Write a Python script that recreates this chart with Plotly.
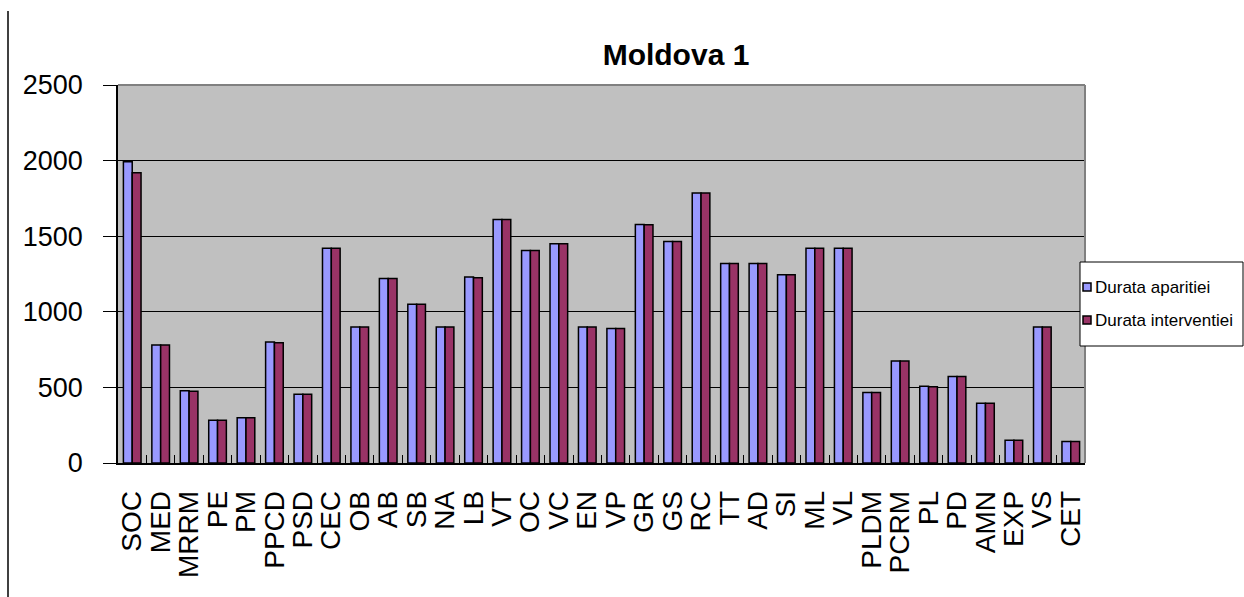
import plotly.graph_objects as go

# Data
categories = ["SOC", "MED", "MRRM", "PE", "PM", "PPCD", "PSD", "CEC", "OB", "AB",
              "SB", "NA", "LB", "VT", "OC", "VC", "EN", "VP", "GR", "GS",
              "RC", "TT", "AD", "SI", "ML", "VL", "PLDM", "PCRM", "PL", "PD",
              "AMN", "EXP", "VS", "CET"]
durata_aparitiei = [1993, 780, 478, 283, 300, 800, 455, 1420, 900, 1220,
                    1050, 900, 1230, 1610, 1405, 1450, 900, 890, 1578, 1465,
                    1785, 1320, 1320, 1245, 1420, 1420, 467, 675, 507, 572,
                    395, 151, 900, 143]
durata_interventiei = [1920, 780, 475, 283, 300, 795, 455, 1420, 900, 1220,
                       1050, 900, 1225, 1610, 1405, 1450, 900, 890, 1575, 1465,
                       1785, 1320, 1320, 1245, 1420, 1420, 467, 675, 505, 572,
                       395, 151, 900, 143]
series_names = ["Durata aparitiei", "Durata interventiei"]
series_colors = ["#9999FF", "#993366"]
y_ticks = [0, 500, 1000, 1500, 2000, 2500]

# Page / plot geometry in pixels
W, H = 1244, 597
L, R, T, B = 118, 159, 85, 134
PW, PH = W - L - R, H - T - B


def px_x(p):
    return (p - L) / PW


def px_y(p):
    return (H - B - p) / PH


FONT = "Liberation Sans, Arial, sans-serif"

fig = go.Figure()
for name, vals, col in zip(series_names, [durata_aparitiei, durata_interventiei], series_colors):
    fig.add_trace(go.Bar(x=categories, y=vals, name=name, marker_color=col,
                         marker_line=dict(color="black", width=1.5), showlegend=False))

fig.update_layout(
    width=W, height=H,
    margin=dict(l=L, r=R, t=T, b=B, autoexpand=False),
    paper_bgcolor="white",
    plot_bgcolor="#C0C0C0",
    barmode="group",
    bargap=0.38,
    bargroupgap=0,
    font=dict(family=FONT, size=27, color="black"),
    title=dict(text="<b>Moldova 1</b>", x=676 / W, xref="container", xanchor="center",
               y=1 - 54 / H, yref="container", yanchor="middle",
               font=dict(family=FONT, size=30, color="black")),
)

fig.update_xaxes(
    type="category",
    tickmode="array",
    tickvals=categories,
    ticktext=categories,
    tickangle=-90,
    tickson="boundaries",
    ticks="inside",
    ticklen=8,
    tickcolor="black",
    showline=True,
    linecolor="black",
    linewidth=1.5,
    showgrid=False,
    ticklabelstandoff=15,
    tickfont=dict(family=FONT, size=28),
)

fig.update_yaxes(
    range=[0, 2500],
    tickvals=y_ticks,
    ticks="outside",
    ticklen=13,
    tickcolor="black",
    showline=True,
    linecolor="black",
    linewidth=1.5,
    showgrid=True,
    gridcolor="black",
    gridwidth=1,
    zeroline=False,
    ticklabelstandoff=15,
    tickfont=dict(family=FONT, size=27),
)

# gray border on top and right of plot area
fig.add_shape(type="line", xref="paper", yref="paper", x0=0, x1=1, y0=1, y1=1,
              line=dict(color="#808080", width=2), layer="above")
fig.add_shape(type="line", xref="paper", yref="paper", x0=1, x1=1, y0=0, y1=1,
              line=dict(color="#808080", width=2), layer="above")

# vertical page line at the far left
fig.add_shape(type="line", xref="paper", yref="paper", x0=px_x(8), x1=px_x(8),
              y0=px_y(11), y1=px_y(H), line=dict(color="black", width=1.5))

# Legend drawn by hand to match Excel's box
fig.add_shape(type="rect", xref="paper", yref="paper",
              x0=px_x(1080), x1=px_x(1243), y0=px_y(262), y1=px_y(346),
              fillcolor="white", line=dict(color="black", width=1), layer="above")
for i, (name, col) in enumerate(zip(series_names, series_colors)):
    cy = 287 + 33 * i
    fig.add_shape(type="rect", xref="paper", yref="paper",
                  x0=px_x(1083), x1=px_x(1091), y0=px_y(cy + 4), y1=px_y(cy - 4),
                  fillcolor=col, line=dict(color="black", width=1.5), layer="above")
    fig.add_annotation(text=name, xref="paper", yref="paper", x=px_x(1093), y=px_y(cy),
                       xanchor="left", yanchor="middle", showarrow=False,
                       font=dict(family=FONT, size=17, color="black"))

# drop the browser's default body margin so the chart sits at the page origin
fig.write_html("out.html", config={"displayModeBar": False},
               post_script="document.body.style.margin='0';")
